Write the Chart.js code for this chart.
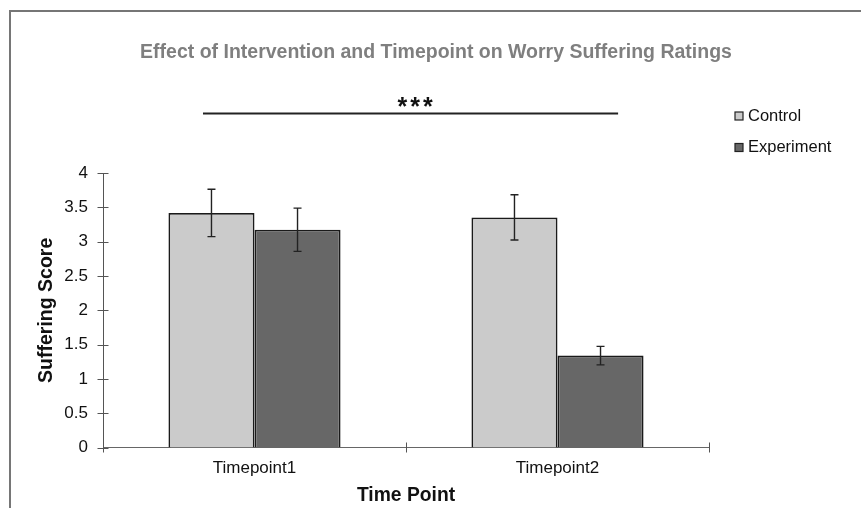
<!DOCTYPE html>
<html>
<head>
<meta charset="utf-8">
<script src="https://cdn.jsdelivr.net/npm/chart.js@4.4.1/dist/chart.umd.min.js"></script>
<style>
  html, body { margin: 0; padding: 0; background: #fff; }
  #frame {
    position: absolute; left: 9px; top: 10px;
    width: 852px; height: 498px;
    border-top: 2px solid #767676; border-left: 2px solid #767676;
  }
  #wrap { position: absolute; left: 0; top: 0; width: 850px; height: 496px; }
</style>
</head>
<body>
<div id="frame"><div id="wrap"><canvas id="chart"></canvas></div></div>
<script>
// values
const categories = ['Timepoint1', 'Timepoint2']
const controlMeans = [3.42, 3.355]
const controlErrors = [0.345, 0.33]
const experimentMeans = [3.175, 1.34]
const experimentErrors = [0.315, 0.135]
const seriesNames = ['Control', 'Experiment']
const sigLabel = '***'

const fontFamily = '"Liberation Sans", Arial, sans-serif'
Chart.defaults.font.family = fontFamily
Chart.defaults.color = '#111'

// error bars, cross ticks, significance bar and legend
const extras = {
   id: 'extras',
   afterDatasetsDraw(chart) {
      const ctx = chart.ctx
      const x = chart.scales.x
      const y = chart.scales.y
      ctx.save()

      // error bars
      ctx.strokeStyle = '#222'
      ctx.lineWidth = 1.4
      chart.data.datasets.forEach((ds, i) => {
         chart.getDatasetMeta(i).data.forEach((bar, j) => {
            let top = y.getPixelForValue(ds.data[j] + ds.errors[j])
            let bot = y.getPixelForValue(ds.data[j] - ds.errors[j])
            ctx.beginPath()
            ctx.moveTo(bar.x, top); ctx.lineTo(bar.x, bot)
            ctx.moveTo(bar.x - 4, top); ctx.lineTo(bar.x + 4, top)
            ctx.moveTo(bar.x - 4, bot); ctx.lineTo(bar.x + 4, bot)
            ctx.stroke()
         })
      })

      // cross tick marks
      ctx.strokeStyle = '#555'
      ctx.lineWidth = 1
      ctx.beginPath()
      y.ticks.forEach(t => {
         let py = Math.round(y.getPixelForValue(t.value)) + 0.5
         ctx.moveTo(x.left - 5.5, py); ctx.lineTo(x.left + 5.5, py)
      })
      for (let i = 0; i <= categories.length; i++) {
         let px = Math.round(x.getPixelForValue(i - 0.5)) + 0.5
         ctx.moveTo(px, y.bottom - 5); ctx.lineTo(px, y.bottom + 5)
      }
      ctx.stroke()

      // significance bar
      let sy = y.getPixelForValue(4.87)
      ctx.strokeStyle = '#222'
      ctx.lineWidth = 2
      ctx.beginPath()
      ctx.moveTo(x.getPixelForValue(-0.17), sy)
      ctx.lineTo(x.getPixelForValue(1.2), sy)
      ctx.stroke()
      ctx.fillStyle = '#111'
      ctx.font = 'bold 25px ' + fontFamily
      ctx.textAlign = 'center'
      ctx.textBaseline = 'middle'
      ctx.letterSpacing = '3px'
      ctx.fillText(sigLabel, x.getPixelForValue(0.535), sy - 5)
      ctx.letterSpacing = '0px'

      // legend
      ctx.font = '16.5px ' + fontFamily
      ctx.textAlign = 'left'
      chart.data.datasets.forEach((ds, i) => {
         let ly = 104 + i * 31.5
         let lx = x.right + 26
         ctx.fillStyle = ds.backgroundColor
         ctx.fillRect(lx, ly - 4, 8, 8)
         ctx.strokeStyle = '#222'
         ctx.lineWidth = 1.2
         ctx.strokeRect(lx, ly - 4, 8, 8)
         ctx.fillStyle = '#111'
         ctx.fillText(ds.label, lx + 13, ly)
      })
      ctx.restore()
   }
}

const ctx = document.getElementById('chart').getContext('2d')
new Chart(ctx, {
   type: 'bar',
   data: {
      labels: categories,
      datasets: [{
         label: seriesNames[0],
         data: controlMeans,
         errors: controlErrors,
         backgroundColor: '#cbcbcb',
         borderColor: '#1a1a1a',
         borderWidth: 1.8
      }, {
         label: seriesNames[1],
         data: experimentMeans,
         errors: experimentErrors,
         backgroundColor: '#676767',
         borderColor: '#1a1a1a',
         borderWidth: 1.8
      }]
   },
   options: {
      responsive: true,
      maintainAspectRatio: false,
      animation: false,
      events: [],
      layout: { padding: 0 },
      datasets: {
         bar: { categoryPercentage: 0.568, barPercentage: 1 }
      },
      plugins: {
         legend: { display: false },
         tooltip: { enabled: false },
         title: {
            display: true,
            text: 'Effect of Intervention and Timepoint on Worry Suffering Ratings',
            color: '#7f7f7f',
            font: { size: 19.5, weight: 'bold' },
            padding: { top: 28.8, bottom: 109 }
         }
      },
      scales: {
         x: {
            grid: { display: false, drawTicks: false },
            border: { display: true, color: '#666', width: 1 },
            ticks: { padding: 11, font: { size: 17 }, color: '#111' },
            title: {
               display: true, text: 'Time Point',
               font: { size: 19.3, weight: 'bold' }, color: '#111',
               padding: { top: 0, bottom: 0.6 }
            },
            afterFit: s => { s.height = 60.5 }
         },
         y: {
            min: 0, max: 4,
            grid: { display: false, drawTicks: false },
            border: { display: true, color: '#555', width: 1 },
            ticks: {
               stepSize: 0.5, padding: 15, font: { size: 17 }, color: '#111',
               callback: v => String(v)
            },
            title: {
               display: true, text: 'Suffering Score',
               font: { size: 19.5, weight: 'bold' }, color: '#111',
               padding: { top: 24, bottom: 0 }
            },
            afterFit: s => { s.width = 92 }
         },
         // empty axis that keeps room on the right for the legend
         side: {
            type: 'linear', position: 'right', display: true,
            grid: { display: false, drawTicks: false },
            border: { display: false },
            ticks: { display: false },
            afterFit: s => { s.width = 152 }
         }
      }
   },
   plugins: [extras]
})
</script>
</body>
</html>
